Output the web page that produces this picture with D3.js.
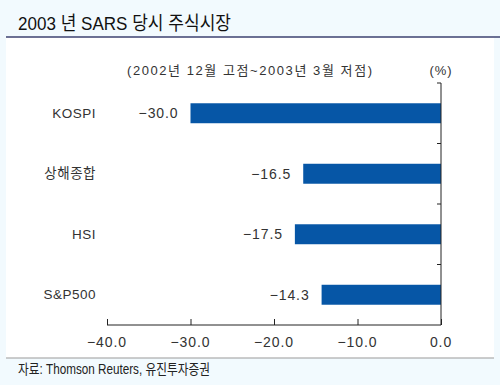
<!DOCTYPE html>
<html lang="ko">
<head>
  <meta charset="UTF-8" />
  <title>2003 년 SARS 당시 주식시장</title>
  <script src="https://d3js.org/d3.v7.min.js"></script>
  <style>
    body { margin: 0; background: #f2fafe; }
    svg { display: block; }
    text { font-family: "Liberation Sans", Arial, "Noto Sans CJK KR", sans-serif; fill: #333; }
    .title { font-size: 19px; fill: #111; }
    .src { font-size: 14px; fill: #222; }
  </style>
</head>
<body>
  <svg width="500" height="385"></svg>
  <script>
    const categories = ["KOSPI", "상해종합", "HSI", "S&P500"];
    const values = [-30.0, -16.5, -17.5, -14.3];
    const xTicks = [-40, -30, -20, -10, 0];

    const svg = d3.select("svg");

    // white panel
    svg.append("rect").attr("x", 6).attr("y", 37).attr("width", 488).attr("height", 321).attr("fill", "#fff");
    svg.append("line").attr("x1", 6).attr("x2", 500).attr("y1", 37).attr("y2", 37)
      .attr("stroke", "#3d4270").attr("stroke-width", 1.5);
    svg.append("line").attr("x1", 6).attr("x2", 494).attr("y1", 358).attr("y2", 358)
      .attr("stroke", "#999").attr("stroke-width", 1);

    svg.append("text").attr("class", "title").attr("x", 18).attr("y", 30)
      .attr("textLength", 213).attr("lengthAdjust", "spacingAndGlyphs")
      .text("2003 년 SARS 당시 주식시장");
    svg.append("text").attr("x", 127).attr("y", 75)
      .attr("font-size", 13).attr("textLength", 245).attr("lengthAdjust", "spacing")
      .text("(2002년 12월 고점~2003년 3월 저점)");
    svg.append("text").attr("x", 441).attr("y", 75).attr("text-anchor", "middle")
      .attr("font-size", 13).attr("letter-spacing", 1).text("(%)");
    svg.append("text").attr("class", "src").attr("x", 18).attr("y", 374)
      .attr("textLength", 192).attr("lengthAdjust", "spacingAndGlyphs")
      .text("자료: Thomson Reuters, 유진투자증권");

    const x = d3.scaleLinear().domain([-40, 0]).range([107, 441]);
    const y = d3.scaleBand().domain(categories).range([83, 325]).paddingInner(0.67).paddingOuter(0.335);

    // bars
    svg.selectAll(".bar").data(values).enter().append("rect")
      .attr("class", "bar")
      .attr("x", d => x(d))
      .attr("y", (d, i) => y(categories[i]))
      .attr("width", d => x(0) - x(d))
      .attr("height", y.bandwidth())
      .attr("fill", "#0656a6");

    // value labels
    svg.selectAll(".val").data(values).enter().append("text")
      .attr("class", "val")
      .attr("x", d => x(d) - 12)
      .attr("y", (d, i) => y(categories[i]) + y.bandwidth() / 2)
      .attr("dy", "0.35em")
      .attr("text-anchor", "end")
      .attr("font-size", 14)
      .attr("letter-spacing", 0.9)
      .text(d => "−" + Math.abs(d).toFixed(1));

    // category labels
    svg.selectAll(".cat").data(categories).enter().append("text")
      .attr("class", "cat")
      .attr("x", 96)
      .attr("y", d => y(d) + y.bandwidth() / 2)
      .attr("dy", "0.35em")
      .attr("text-anchor", "end")
      .attr("font-size", 13.5)
      .attr("letter-spacing", 0.5)
      .text(d => d);

    // x axis
    const xAxis = d3.axisTop(x).tickValues(xTicks).tickSize(6).tickFormat("");
    const gx = svg.append("g").attr("transform", "translate(0,325)").call(xAxis);
    gx.select(".domain").attr("d", "M107,0H441");
    gx.selectAll("line, path").attr("stroke", "#222");
    svg.selectAll(".xt").data(xTicks).enter().append("text")
      .attr("x", d => x(d))
      .attr("y", 342)
      .attr("dy", "0.35em")
      .attr("text-anchor", "middle")
      .attr("font-size", 14)
      .attr("letter-spacing", 0.9)
      .text(d => (d < 0 ? "−" + Math.abs(d).toFixed(1) : d.toFixed(1)));

    // y axis at zero with ticks between categories
    svg.append("line").attr("x1", x(0)).attr("x2", x(0)).attr("y1", 83).attr("y2", 325)
      .attr("stroke", "#222");
    const step = y.step();
    const sep = d3.range(0, categories.length).map(i => 83 + i * step);
    svg.selectAll(".ytick").data(sep).enter().append("line")
      .attr("x1", x(0) - 4).attr("x2", x(0))
      .attr("y1", d => d).attr("y2", d => d)
      .attr("stroke", "#222");
  </script>
</body>
</html>
